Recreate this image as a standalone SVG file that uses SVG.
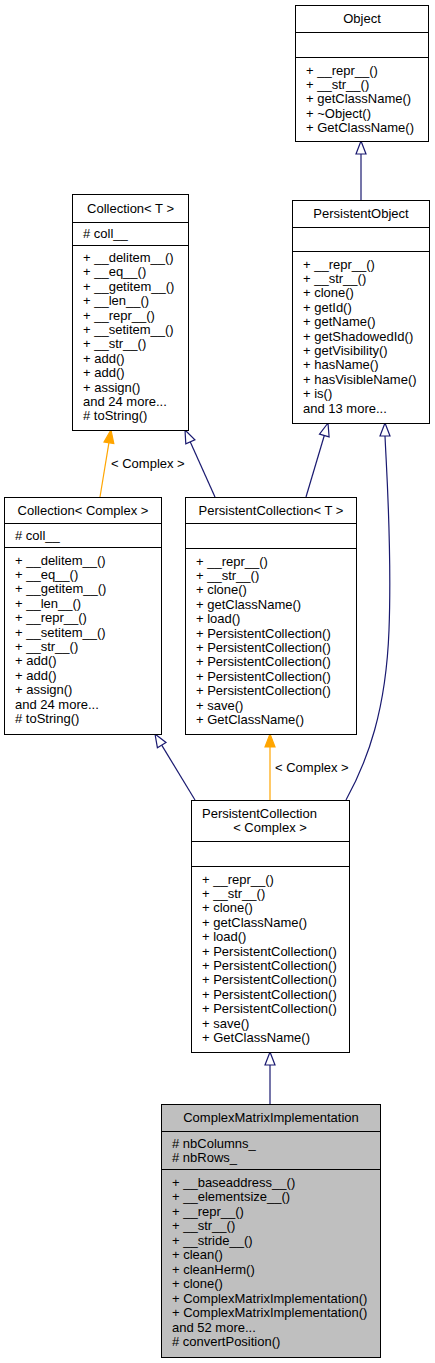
<svg xmlns="http://www.w3.org/2000/svg" width="435" height="1363" viewBox="0 0 435 1363">
<style>
.box{fill:#ffffff;stroke:#000000;stroke-width:1}
.cur{fill:#bfbfbf;stroke:#000000;stroke-width:1}
.div{stroke:#000000;stroke-width:1;fill:none}
text{font-family:"Liberation Sans",Arial,sans-serif;font-size:13px;fill:#000000}
.c{text-anchor:middle}
.inh{stroke:#191970;stroke-width:1.2;fill:none}
.inhh{stroke:#191970;stroke-width:1.2;fill:#ffffff}
.tpl{stroke:#ffa500;stroke-width:1.2;fill:none}
.tplh{stroke:#ffa500;stroke-width:1.2;fill:#ffa500}
</style>
<rect width="435" height="1363" fill="#ffffff"/>
<g id="connectors">
<line class="inh" x1="361" y1="200" x2="361" y2="154"/>
<polygon class="inhh" points="361,141 356,154 366,154"/>
<line class="tpl" x1="100" y1="497" x2="108.9" y2="442.8"/>
<polygon class="tplh" points="111,430 113.8,443.6 104,442"/>
<text x="111" y="467.5">&lt; Complex &gt;</text>
<line class="inh" x1="215" y1="497" x2="190.3" y2="441.9"/>
<polygon class="inhh" points="185,430 194.9,439.8 185.8,443.9"/>
<line class="inh" x1="306" y1="497" x2="324.3" y2="435.5"/>
<polygon class="inhh" points="328,423 329.1,436.9 319.5,434.1"/>
<line class="inh" x1="195" y1="800" x2="161.7" y2="745.1"/>
<polygon class="inhh" points="155,734 166,742.5 157.4,747.7"/>
<line class="tpl" x1="270" y1="800" x2="270" y2="747"/>
<polygon class="tplh" points="270,734 265,747 275,747"/>
<text x="275" y="771.5">&lt; Complex &gt;</text>
<path class="inh" d="M346,800 C368,760 386,710 389,630 C392,550 387,480 385,436"/>
<polygon class="inhh" points="385,423 380,436 390,436"/>
<line class="inh" x1="270" y1="1104" x2="270" y2="1065"/>
<polygon class="inhh" points="270,1052 265,1065 275,1065"/>
</g>
<g id="Object">
<rect class="box" x="295.5" y="5.5" width="133" height="136"/>
<line class="div" x1="295.5" y1="32.5" x2="428.5" y2="32.5"/>
<line class="div" x1="295.5" y1="57.5" x2="428.5" y2="57.5"/>
<text class="c" x="362" y="23">Object</text>
<text x="306" y="74.5">+ __repr__()</text>
<text x="306" y="88.9">+ __str__()</text>
<text x="306" y="103.3">+ getClassName()</text>
<text x="306" y="117.7">+ ~Object()</text>
<text x="306" y="132.1">+ GetClassName()</text>
</g>
<g id="PersistentObject">
<rect class="box" x="292.5" y="200.5" width="137" height="223"/>
<line class="div" x1="292.5" y1="227.5" x2="429.5" y2="227.5"/>
<line class="div" x1="292.5" y1="251.5" x2="429.5" y2="251.5"/>
<text class="c" x="361" y="218">PersistentObject</text>
<text x="303" y="268.5">+ __repr__()</text>
<text x="303" y="282.9">+ __str__()</text>
<text x="303" y="297.3">+ clone()</text>
<text x="303" y="311.7">+ getId()</text>
<text x="303" y="326.1">+ getName()</text>
<text x="303" y="340.5">+ getShadowedId()</text>
<text x="303" y="354.9">+ getVisibility()</text>
<text x="303" y="369.3">+ hasName()</text>
<text x="303" y="383.7">+ hasVisibleName()</text>
<text x="303" y="398.1">+ is()</text>
<text x="303" y="412.5">and 13 more...</text>
</g>
<g id="CollectionT">
<rect class="box" x="72.5" y="194.5" width="116" height="236"/>
<line class="div" x1="72.5" y1="222.5" x2="188.5" y2="222.5"/>
<line class="div" x1="72.5" y1="245.5" x2="188.5" y2="245.5"/>
<text class="c" x="130.5" y="212.5">Collection&lt; T &gt;</text>
<text x="83" y="237.5"># coll__</text>
<text x="83" y="262">+ __delitem__()</text>
<text x="83" y="276.4">+ __eq__()</text>
<text x="83" y="290.8">+ __getitem__()</text>
<text x="83" y="305.2">+ __len__()</text>
<text x="83" y="319.6">+ __repr__()</text>
<text x="83" y="334">+ __setitem__()</text>
<text x="83" y="348.4">+ __str__()</text>
<text x="83" y="362.8">+ add()</text>
<text x="83" y="377.2">+ add()</text>
<text x="83" y="391.6">+ assign()</text>
<text x="83" y="406">and 24 more...</text>
<text x="83" y="420.4"># toString()</text>
</g>
<g id="CollectionComplex">
<rect class="box" x="4.5" y="497.5" width="157" height="237"/>
<line class="div" x1="4.5" y1="523.5" x2="161.5" y2="523.5"/>
<line class="div" x1="4.5" y1="547.5" x2="161.5" y2="547.5"/>
<text class="c" x="83" y="514.5">Collection&lt; Complex &gt;</text>
<text x="15" y="539.5"># coll__</text>
<text x="15" y="564.5">+ __delitem__()</text>
<text x="15" y="578.9">+ __eq__()</text>
<text x="15" y="593.3">+ __getitem__()</text>
<text x="15" y="607.7">+ __len__()</text>
<text x="15" y="622.1">+ __repr__()</text>
<text x="15" y="636.5">+ __setitem__()</text>
<text x="15" y="650.9">+ __str__()</text>
<text x="15" y="665.3">+ add()</text>
<text x="15" y="679.7">+ add()</text>
<text x="15" y="694.1">+ assign()</text>
<text x="15" y="708.5">and 24 more...</text>
<text x="15" y="722.9"># toString()</text>
</g>
<g id="PersistentCollectionT">
<rect class="box" x="185.5" y="497.5" width="171" height="237"/>
<line class="div" x1="185.5" y1="523.5" x2="356.5" y2="523.5"/>
<line class="div" x1="185.5" y1="548.5" x2="356.5" y2="548.5"/>
<text class="c" x="271" y="514.5">PersistentCollection&lt; T &gt;</text>
<text x="196" y="565.5">+ __repr__()</text>
<text x="196" y="579.9">+ __str__()</text>
<text x="196" y="594.3">+ clone()</text>
<text x="196" y="608.7">+ getClassName()</text>
<text x="196" y="623.1">+ load()</text>
<text x="196" y="637.5">+ PersistentCollection()</text>
<text x="196" y="651.9">+ PersistentCollection()</text>
<text x="196" y="666.3">+ PersistentCollection()</text>
<text x="196" y="680.7">+ PersistentCollection()</text>
<text x="196" y="695.1">+ PersistentCollection()</text>
<text x="196" y="709.5">+ save()</text>
<text x="196" y="723.9">+ GetClassName()</text>
</g>
<g id="PersistentCollectionComplex">
<rect class="box" x="191.5" y="800.5" width="158" height="252"/>
<line class="div" x1="191.5" y1="841.5" x2="349.5" y2="841.5"/>
<line class="div" x1="191.5" y1="866.5" x2="349.5" y2="866.5"/>
<text x="202" y="818">PersistentCollection</text>
<text class="c" x="270" y="832">&lt; Complex &gt;</text>
<text x="202" y="883.5">+ __repr__()</text>
<text x="202" y="897.9">+ __str__()</text>
<text x="202" y="912.3">+ clone()</text>
<text x="202" y="926.7">+ getClassName()</text>
<text x="202" y="941.1">+ load()</text>
<text x="202" y="955.5">+ PersistentCollection()</text>
<text x="202" y="969.9">+ PersistentCollection()</text>
<text x="202" y="984.3">+ PersistentCollection()</text>
<text x="202" y="998.7">+ PersistentCollection()</text>
<text x="202" y="1013.1">+ PersistentCollection()</text>
<text x="202" y="1027.5">+ save()</text>
<text x="202" y="1041.9">+ GetClassName()</text>
</g>
<g id="ComplexMatrixImplementation">
<rect class="cur" x="161.5" y="1104.5" width="219" height="253"/>
<line class="div" x1="161.5" y1="1131.5" x2="380.5" y2="1131.5"/>
<line class="div" x1="161.5" y1="1169.5" x2="380.5" y2="1169.5"/>
<text class="c" x="271" y="1122">ComplexMatrixImplementation</text>
<text x="172" y="1147.5"># nbColumns_</text>
<text x="172" y="1162"># nbRows_</text>
<text x="172" y="1186.5">+ __baseaddress__()</text>
<text x="172" y="1201">+ __elementsize__()</text>
<text x="172" y="1215.5">+ __repr__()</text>
<text x="172" y="1230">+ __str__()</text>
<text x="172" y="1244.5">+ __stride__()</text>
<text x="172" y="1259">+ clean()</text>
<text x="172" y="1273.5">+ cleanHerm()</text>
<text x="172" y="1288">+ clone()</text>
<text x="172" y="1302.5">+ ComplexMatrixImplementation()</text>
<text x="172" y="1317">+ ComplexMatrixImplementation()</text>
<text x="172" y="1331.5">and 52 more...</text>
<text x="172" y="1346"># convertPosition()</text>
</g>
</svg>
